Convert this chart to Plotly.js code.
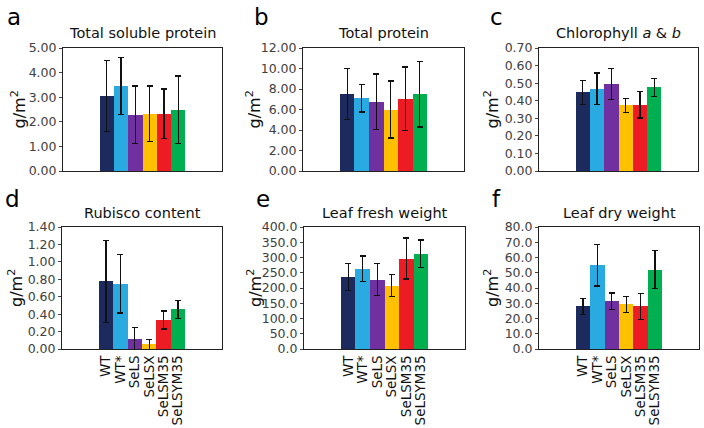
<!DOCTYPE html>
<html>
<head>
<meta charset="utf-8">
<script src="https://cdn.plot.ly/plotly-3.0.1.min.js"></script>
<style>html,body{margin:0;padding:0;background:#fff;}#chart{width:704px;height:428px;}</style>
</head>
<body>
<div id="chart"></div>
<script>
// ---- data ----
const categories = ["WT", "WT*", "SeLS", "SeLSX", "SeLSM35", "SeLSYM35"];
const barColors = ["#1d2a5d", "#29abe2", "#7030a0", "#ffc000", "#ed1c24", "#00b050"];

const panelLetters = ["a", "b", "c", "d", "e", "f"];
const panelTitles = ["Total soluble protein", "Total protein", "Chlorophyll <i>a</i> &amp; <i>b</i>",
                     "Rubisco content", "Leaf fresh weight", "Leaf dry weight"];

const solubleProtein = [3.05, 3.46, 2.28, 2.32, 2.32, 2.49];
const solubleProteinErr = [1.43, 1.15, 1.17, 1.13, 1.01, 1.37];

const totalProtein = [7.50, 7.08, 6.75, 6.00, 7.05, 7.50];
const totalProteinErr = [2.50, 1.33, 2.70, 2.77, 3.10, 3.20];

const chlorophyll = [0.447, 0.468, 0.495, 0.373, 0.377, 0.476];
const chlorophyllErr = [0.067, 0.090, 0.087, 0.040, 0.075, 0.050];

const rubisco = [0.775, 0.748, 0.118, 0.053, 0.332, 0.454];
const rubiscoErr = [0.470, 0.335, 0.130, 0.057, 0.103, 0.100];

const freshWeight = [236.5, 262.7, 227.8, 208.0, 296.5, 312.8];
const freshWeightErr = [44, 42, 53, 37, 67, 45];

const dryWeight = [27.9, 54.9, 31.4, 29.2, 27.9, 52.1];
const dryWeightErr = [5.2, 13.5, 5.3, 5.4, 8.4, 12.6];

const yMax = [5, 12, 0.7, 1.4, 400, 80];
const yStep = [1, 2, 0.1, 0.2, 50, 10];
const yFormat = [".2f", ".2f", ".2f", ".2f", ".1f", ".1f"];

const seriesValues = [solubleProtein, totalProtein, chlorophyll, rubisco, freshWeight, dryWeight];
const seriesErrors = [solubleProteinErr, totalProteinErr, chlorophyllErr, rubiscoErr, freshWeightErr, dryWeightErr];

// ---- layout geometry (pixels) ----
const W = 704, H = 428;
const plotBoxes = [
  [63, 222, 48, 171], [303, 464, 48, 171], [539, 698, 48, 171],
  [62, 222, 227, 349], [304, 465, 227, 349], [539, 699, 227, 349]
];
const letterPos = [[14, 17], [261, 17], [496, 17], [12, 199], [263, 199], [496, 199]];
const ylabelX = [19, 254, 492, 15, 254, 491];
const titleY = [33, 33, 33, 213, 213, 213];

const FONT = "DejaVu Sans, Arial, sans-serif";
const traces = [];
const layout = {
  width: W, height: H, autosize: false,
  margin: {l: 0, r: 0, t: 0, b: 0},
  paper_bgcolor: "#ffffff", plot_bgcolor: "#ffffff",
  showlegend: false, bargap: 0,
  annotations: []
};

for (let i = 0; i < 6; i++) {
  const n = i + 1;
  const xa = n === 1 ? "x" : "x" + n;
  const ya = n === 1 ? "y" : "y" + n;
  traces.push({
    type: "bar", x: categories, y: seriesValues[i],
    xaxis: xa, yaxis: ya, width: 1,
    marker: {color: barColors, line: {width: 0}},
    error_y: {type: "data", array: seriesErrors[i], visible: true,
              color: "#111111", thickness: 1.3, width: 3},
    hoverinfo: "none"
  });
  const [x0, x1, y0, y1] = plotBoxes[i];
  const bottomRow = i >= 3;
  layout["xaxis" + (n === 1 ? "" : n)] = {
    domain: [x0 / W, x1 / W], anchor: ya,
    type: "category", range: [-3.05, 8.05],
    tickmode: "array", tickvals: categories, ticktext: categories,
    showline: true, mirror: true, linecolor: "#222222", linewidth: 1,
    showgrid: false, zeroline: false, ticks: "",
    showticklabels: bottomRow, tickangle: -90,
    tickfont: {family: FONT, size: 13.5, color: "#111111"}
  };
  layout["yaxis" + (n === 1 ? "" : n)] = {
    domain: [1 - y1 / H, 1 - y0 / H], anchor: xa,
    range: [0, yMax[i]], dtick: yStep[i], tick0: 0, tickformat: yFormat[i],
    showline: true, mirror: true, linecolor: "#222222", linewidth: 1,
    showgrid: false, zeroline: false,
    ticks: "outside", ticklen: 3, tickcolor: "#444444",
    tickfont: {family: FONT, size: 12.5, color: "#404040"}
  };
  layout.annotations.push({
    text: panelTitles[i], xref: "paper", yref: "paper",
    x: ((x0 + x1) / 2) / W, y: 1 - titleY[i] / H, xanchor: "center", yanchor: "middle",
    showarrow: false, font: {family: FONT, size: 14.5, color: "#111111"}
  });
  layout.annotations.push({
    text: panelLetters[i], xref: "paper", yref: "paper",
    x: letterPos[i][0] / W, y: 1 - letterPos[i][1] / H, xanchor: "center", yanchor: "middle",
    showarrow: false, font: {family: FONT, size: 23, color: "#000000"}
  });
  layout.annotations.push({
    text: "g/m<sup>2</sup>", xref: "paper", yref: "paper", textangle: -90,
    x: ylabelX[i] / W, y: 1 - ((y0 + y1) / 2) / H, xanchor: "center", yanchor: "middle",
    showarrow: false, font: {family: FONT, size: 16, color: "#111111"}
  });
}

Plotly.newPlot("chart", traces, layout, {staticPlot: true, displayModeBar: false});
</script>
</body>
</html>
